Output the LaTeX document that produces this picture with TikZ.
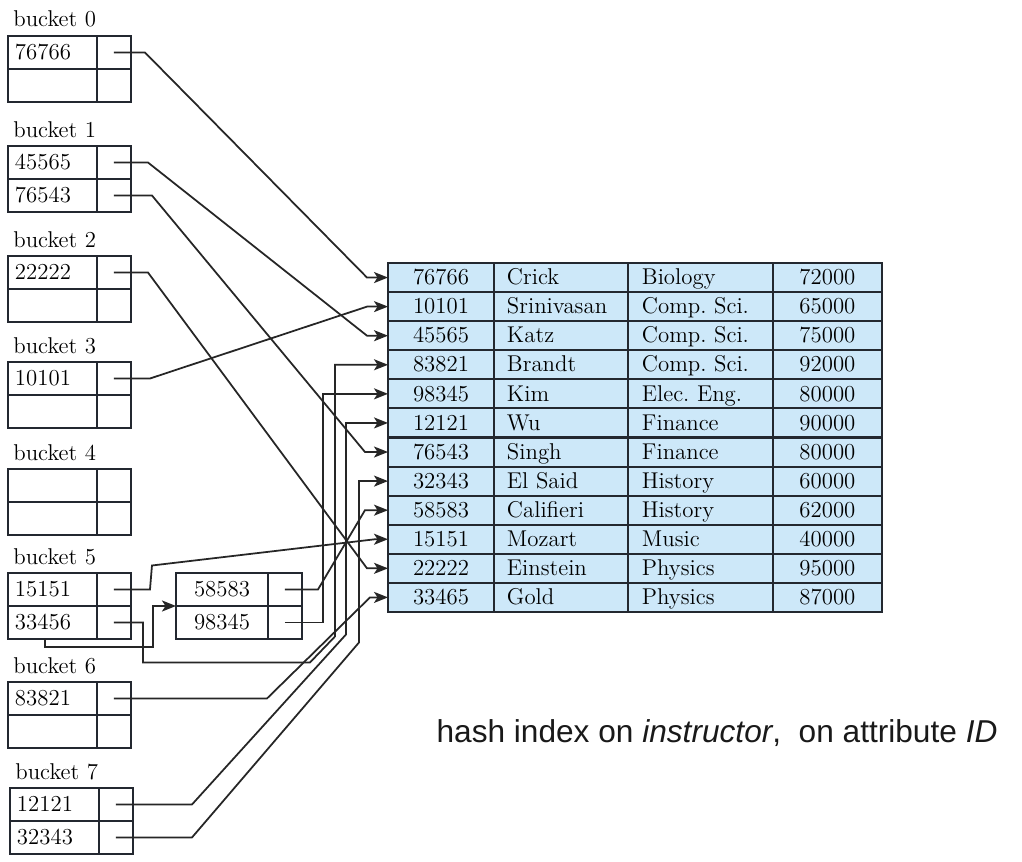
\documentclass[tikz,border=0pt]{standalone}
\usepackage{fontspec}
\newfontfamily\capfont{Liberation Sans}
\usetikzlibrary{arrows.meta,positioning,calc}
\definecolor{rowblue}{RGB}{205,232,249}
\definecolor{rule}{RGB}{35,40,48}

\begin{document}
\begin{tikzpicture}[x=0.02cm,y=-0.02cm,>={Stealth[length=2.8mm,width=2.2mm,inset=0.7mm]},font=\fontsize{13}{15}\selectfont\frenchspacing]
	\tikzstyle{key}=[rectangle, draw=rule, line width=1.2pt, minimum height=0.66cm, inner xsep=0.14cm, inner ysep=0pt, outer sep=0pt, text width=1.5cm, align=left, text height=1.9ex, text depth=0pt]
	\tikzstyle{ovkey}=[key, text width=1.56cm, align=center]
	\tikzstyle{ptr}=[rectangle, draw=rule, line width=1.2pt, minimum width=0.68cm, minimum height=0.66cm, inner sep=0pt, outer sep=0pt]
	\tikzstyle{lbl}=[anchor=base west, inner sep=0pt]
	\tikzstyle{cell}=[rectangle, draw=rule, fill=rowblue, line width=1.2pt, minimum height=0.5817cm, inner ysep=0pt, outer sep=0pt, text height=1.9ex, text depth=0pt]
	\tikzstyle{idcol}=[cell, minimum width=2.12cm, inner xsep=0pt]
	\tikzstyle{namecol}=[cell, inner xsep=0.26cm, text width=2.16cm, align=left]
	\tikzstyle{deptcol}=[cell, inner xsep=0.28cm, text width=2.34cm, align=left]
	\tikzstyle{salcol}=[cell, minimum width=2.18cm, inner xsep=0pt]
	\tikzstyle{link}=[->, line width=1pt, draw=black!85]

	\fill[white] (0,0) rectangle (1022,862);

	% buckets
	\node[key] (b0k1) at (8,36) [anchor=north west] {76766};
	\node[ptr] (b0p1) [right=0pt of b0k1] {};
	\node[key] (b0k2) [below=0pt of b0k1] {};
	\node[ptr] (b0p2) [below=0pt of b0p1] {};
	\node[lbl] (lb0) at ([shift={(5,-9)}]b0k1.north west) {bucket 0};

	\node[key] (b1k1) at (8,146) [anchor=north west] {45565};
	\node[ptr] (b1p1) [right=0pt of b1k1] {};
	\node[key] (b1k2) [below=0pt of b1k1] {76543};
	\node[ptr] (b1p2) [below=0pt of b1p1] {};
	\node[lbl] (lb1) at ([shift={(5,-9)}]b1k1.north west) {bucket 1};

	\node[key] (b2k1) at (8,256) [anchor=north west] {22222};
	\node[ptr] (b2p1) [right=0pt of b2k1] {};
	\node[key] (b2k2) [below=0pt of b2k1] {};
	\node[ptr] (b2p2) [below=0pt of b2p1] {};
	\node[lbl] (lb2) at ([shift={(5,-9)}]b2k1.north west) {bucket 2};

	\node[key] (b3k1) at (8,362) [anchor=north west] {10101};
	\node[ptr] (b3p1) [right=0pt of b3k1] {};
	\node[key] (b3k2) [below=0pt of b3k1] {};
	\node[ptr] (b3p2) [below=0pt of b3p1] {};
	\node[lbl] (lb3) at ([shift={(5,-9)}]b3k1.north west) {bucket 3};

	\node[key] (b4k1) at (8,469) [anchor=north west] {};
	\node[ptr] (b4p1) [right=0pt of b4k1] {};
	\node[key] (b4k2) [below=0pt of b4k1] {};
	\node[ptr] (b4p2) [below=0pt of b4p1] {};
	\node[lbl] (lb4) at ([shift={(5,-9)}]b4k1.north west) {bucket 4};

	\node[key] (b5k1) at (8,573) [anchor=north west] {15151};
	\node[ptr] (b5p1) [right=0pt of b5k1] {};
	\node[key] (b5k2) [below=0pt of b5k1] {33456};
	\node[ptr] (b5p2) [below=0pt of b5p1] {};
	\node[lbl] (lb5) at ([shift={(5,-9)}]b5k1.north west) {bucket 5};

	\node[ovkey] (o1k) at (176,573) [anchor=north west] {58583};
	\node[ptr] (o1p) [right=0pt of o1k] {};
	\node[ovkey] (o2k) [below=0pt of o1k] {98345};
	\node[ptr] (o2p) [below=0pt of o1p] {};

	\node[key] (b6k1) at (8,682) [anchor=north west] {83821};
	\node[ptr] (b6p1) [right=0pt of b6k1] {};
	\node[key] (b6k2) [below=0pt of b6k1] {};
	\node[ptr] (b6p2) [below=0pt of b6p1] {};
	\node[lbl] (lb6) at ([shift={(5,-9)}]b6k1.north west) {bucket 6};

	\node[key] (b7k1) at (10,788) [anchor=north west] {12121};
	\node[ptr] (b7p1) [right=0pt of b7k1] {};
	\node[key] (b7k2) [below=0pt of b7k1] {32343};
	\node[ptr] (b7p2) [below=0pt of b7p1] {};
	\node[lbl] (lb7) at ([shift={(5,-9)}]b7k1.north west) {bucket 7};

	% instructor file
	\node[idcol] (id0) at (388,263) [anchor=north west] {76766};
	\node[namecol] (nm0) [right=0pt of id0] {Crick};
	\node[deptcol] (dp0) [right=0pt of nm0] {Biology};
	\node[salcol] (sl0) [right=0pt of dp0] {72000};
	\node[idcol] (id1) [below=0pt of id0] {10101};
	\node[namecol] (nm1) [right=0pt of id1] {Srinivasan};
	\node[deptcol] (dp1) [right=0pt of nm1] {Comp. Sci.};
	\node[salcol] (sl1) [right=0pt of dp1] {65000};
	\node[idcol] (id2) [below=0pt of id1] {45565};
	\node[namecol] (nm2) [right=0pt of id2] {Katz};
	\node[deptcol] (dp2) [right=0pt of nm2] {Comp. Sci.};
	\node[salcol] (sl2) [right=0pt of dp2] {75000};
	\node[idcol] (id3) [below=0pt of id2] {83821};
	\node[namecol] (nm3) [right=0pt of id3] {Brandt};
	\node[deptcol] (dp3) [right=0pt of nm3] {Comp. Sci.};
	\node[salcol] (sl3) [right=0pt of dp3] {92000};
	\node[idcol] (id4) [below=0pt of id3] {98345};
	\node[namecol] (nm4) [right=0pt of id4] {Kim};
	\node[deptcol] (dp4) [right=0pt of nm4] {Elec. Eng.};
	\node[salcol] (sl4) [right=0pt of dp4] {80000};
	\node[idcol] (id5) [below=0pt of id4] {12121};
	\node[namecol] (nm5) [right=0pt of id5] {Wu};
	\node[deptcol] (dp5) [right=0pt of nm5] {Finance};
	\node[salcol] (sl5) [right=0pt of dp5] {90000};
	\node[idcol] (id6) [below=0pt of id5] {76543};
	\node[namecol] (nm6) [right=0pt of id6] {Singh};
	\node[deptcol] (dp6) [right=0pt of nm6] {Finance};
	\node[salcol] (sl6) [right=0pt of dp6] {80000};
	\node[idcol] (id7) [below=0pt of id6] {32343};
	\node[namecol] (nm7) [right=0pt of id7] {El Said};
	\node[deptcol] (dp7) [right=0pt of nm7] {History};
	\node[salcol] (sl7) [right=0pt of dp7] {60000};
	\node[idcol] (id8) [below=0pt of id7] {58583};
	\node[namecol] (nm8) [right=0pt of id8] {Califieri};
	\node[deptcol] (dp8) [right=0pt of nm8] {History};
	\node[salcol] (sl8) [right=0pt of dp8] {62000};
	\node[idcol] (id9) [below=0pt of id8] {15151};
	\node[namecol] (nm9) [right=0pt of id9] {Mozart};
	\node[deptcol] (dp9) [right=0pt of nm9] {Music};
	\node[salcol] (sl9) [right=0pt of dp9] {40000};
	\node[idcol] (id10) [below=0pt of id9] {22222};
	\node[namecol] (nm10) [right=0pt of id10] {Einstein};
	\node[deptcol] (dp10) [right=0pt of nm10] {Physics};
	\node[salcol] (sl10) [right=0pt of dp10] {95000};
	\node[idcol] (id11) [below=0pt of id10] {33465};
	\node[namecol] (nm11) [right=0pt of id11] {Gold};
	\node[deptcol] (dp11) [right=0pt of nm11] {Physics};
	\node[salcol] (sl11) [right=0pt of dp11] {87000};

	% pointers
	\draw[link] (b0p1.center) -- ++(31,0) -- ($(id0.west)+(-21,0)$) -- (id0.west);
	\draw[link] (b1p1.center) -- ++(34,0) -- ($(id2.west)+(-21,0)$) -- (id2.west);
	\draw[link] (b1p2.center) -- ++(38,0) -- ($(id6.west)+(-23,0)$) -- (id6.west);
	\draw[link] (b2p1.center) -- ++(34,0) -- ($(id10.west)+(-21,0)$) -- (id10.west);
	\draw[link] (b3p1.center) -- ++(36,0) -- ($(id1.west)+(-21,0)$) -- (id1.west);
	\draw[link] (b5p1.center) -- ++(36,0) -- ++(2,-24) -- ($(id9.west)+(-13,0)$) -- (id9.west);
	\draw[link] (b5p2.center) -- ++(29,0) -- ++(0,40) -- ++(167,0) -- ++(25,-26) |- (id3.west);
	\draw[link] ([xshift=-0.15cm]b5k2.south) -- ++(0,8) -| ($(o1k.south west)+(-23,0)$) -- (o1k.south west);
	\draw[link] (o1p.center) -- ++(33,0) -- ($(id8.west)+(-23,0)$) -- (id8.west);
	\draw[link] (o2p.center) -| ($(id4.west)+(-65,0)$) -- (id4.west);
	\draw[link] (b6p1.center) -- ++(153,0) -- ($(id11.west)+(-18,0)$) -- (id11.west);
	\draw[link] (b7p1.center) -- ++(76,0) -- ++(154,-170) |- (id5.west);
	\draw[link] (b7p2.center) -- ++(76,0) -- ++(167,-195) |- (id7.west);

	\node[font=\capfont\fontsize{18}{22}\selectfont, text=black!90] (cap) at (717,733) {hash index on \textit{instructor},\ \ on attribute \textit{ID}};
\end{tikzpicture}
\end{document}
